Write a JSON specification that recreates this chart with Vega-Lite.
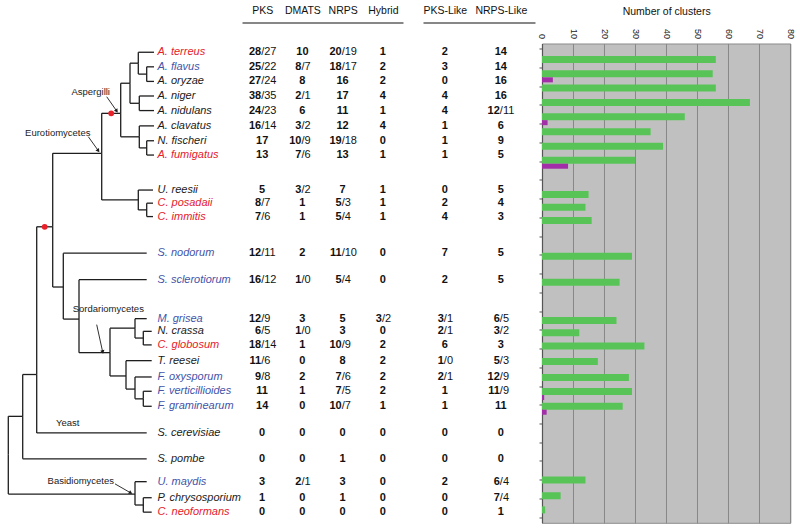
{
  "$schema": "https://vega.github.io/schema/vega-lite/v6.json",
  "padding": {"left": 0, "top": 5.5, "right": 0, "bottom": 0},
  "config": {"font": "Liberation Sans", "view": {"stroke": null}},
  "datasets": {
    "fungi": [
      {"sp": "A. terreus", "type": "human pathogen", "row": 0, "PKS": "28/27", "DMATS": "10", "NRPS": "20/19", "Hybrid": "1", "PKS-Like": "2", "NRPS-Like": "14", "n": 56, "n2": 0},
      {"sp": "A. flavus", "type": "plant pathogen", "row": 1, "PKS": "25/22", "DMATS": "8/7", "NRPS": "18/17", "Hybrid": "2", "PKS-Like": "3", "NRPS-Like": "14", "n": 55, "n2": 3.5},
      {"sp": "A. oryzae", "type": "other", "row": 2, "PKS": "27/24", "DMATS": "8", "NRPS": "16", "Hybrid": "2", "PKS-Like": "0", "NRPS-Like": "16", "n": 56, "n2": 0},
      {"sp": "A. niger", "type": "other", "row": 3, "PKS": "38/35", "DMATS": "2/1", "NRPS": "17", "Hybrid": "4", "PKS-Like": "4", "NRPS-Like": "16", "n": 67, "n2": 0},
      {"sp": "A. nidulans", "type": "other", "row": 4, "PKS": "24/23", "DMATS": "6", "NRPS": "11", "Hybrid": "1", "PKS-Like": "4", "NRPS-Like": "12/11", "n": 46, "n2": 1.8},
      {"sp": "A. clavatus", "type": "other", "row": 5.05, "PKS": "16/14", "DMATS": "3/2", "NRPS": "12", "Hybrid": "4", "PKS-Like": "1", "NRPS-Like": "6", "n": 35, "n2": 0},
      {"sp": "N. fischeri", "type": "other", "row": 6.07, "PKS": "17", "DMATS": "10/9", "NRPS": "19/18", "Hybrid": "0", "PKS-Like": "1", "NRPS-Like": "9", "n": 39, "n2": 0},
      {"sp": "A. fumigatus", "type": "human pathogen", "row": 7.05, "PKS": "13", "DMATS": "7/6", "NRPS": "13", "Hybrid": "1", "PKS-Like": "1", "NRPS-Like": "5", "n": 30, "n2": 8.4},
      {"sp": "U. reesii", "type": "other", "row": 9.45, "PKS": "5", "DMATS": "3/2", "NRPS": "7", "Hybrid": "1", "PKS-Like": "0", "NRPS-Like": "5", "n": 15, "n2": 0},
      {"sp": "C. posadaii", "type": "human pathogen", "row": 10.35, "PKS": "8/7", "DMATS": "1", "NRPS": "5/3", "Hybrid": "1", "PKS-Like": "2", "NRPS-Like": "4", "n": 14, "n2": 0},
      {"sp": "C. immitis", "type": "human pathogen", "row": 11.27, "PKS": "7/6", "DMATS": "1", "NRPS": "5/4", "Hybrid": "1", "PKS-Like": "4", "NRPS-Like": "3", "n": 16, "n2": 0},
      {"sp": "S. nodorum", "type": "plant pathogen", "row": 13.78, "PKS": "12/11", "DMATS": "2", "NRPS": "11/10", "Hybrid": "0", "PKS-Like": "7", "NRPS-Like": "5", "n": 29, "n2": 0},
      {"sp": "S. sclerotiorum", "type": "plant pathogen", "row": 15.6, "PKS": "16/12", "DMATS": "1/0", "NRPS": "5/4", "Hybrid": "0", "PKS-Like": "2", "NRPS-Like": "5", "n": 25, "n2": 0},
      {"sp": "M. grisea", "type": "plant pathogen", "row": 18.27, "PKS": "12/9", "DMATS": "3", "NRPS": "5", "Hybrid": "3/2", "PKS-Like": "3/1", "NRPS-Like": "6/5", "n": 24, "n2": 0},
      {"sp": "N. crassa", "type": "other", "row": 19.14, "PKS": "6/5", "DMATS": "1/0", "NRPS": "3", "Hybrid": "0", "PKS-Like": "2/1", "NRPS-Like": "3/2", "n": 12, "n2": 0},
      {"sp": "C. globosum", "type": "human pathogen", "row": 20.07, "PKS": "18/14", "DMATS": "1", "NRPS": "10/9", "Hybrid": "2", "PKS-Like": "6", "NRPS-Like": "3", "n": 33, "n2": 0},
      {"sp": "T. reesei", "type": "other", "row": 21.15, "PKS": "11/6", "DMATS": "0", "NRPS": "8", "Hybrid": "2", "PKS-Like": "1/0", "NRPS-Like": "5/3", "n": 18, "n2": 0},
      {"sp": "F. oxysporum", "type": "plant pathogen", "row": 22.27, "PKS": "9/8", "DMATS": "2", "NRPS": "7/6", "Hybrid": "2", "PKS-Like": "2/1", "NRPS-Like": "12/9", "n": 28, "n2": 0},
      {"sp": "F. verticillioides", "type": "plant pathogen", "row": 23.25, "PKS": "11", "DMATS": "1", "NRPS": "7/5", "Hybrid": "2", "PKS-Like": "1", "NRPS-Like": "11/9", "n": 29, "n2": 0.7},
      {"sp": "F. graminearum", "type": "plant pathogen", "row": 24.28, "PKS": "14", "DMATS": "0", "NRPS": "10/7", "Hybrid": "1", "PKS-Like": "1", "NRPS-Like": "11", "n": 26, "n2": 1.5},
      {"sp": "S. cerevisiae", "type": "other", "row": 26.11, "PKS": "0", "DMATS": "0", "NRPS": "0", "Hybrid": "0", "PKS-Like": "0", "NRPS-Like": "0", "n": 0, "n2": 0},
      {"sp": "S. pombe", "type": "other", "row": 27.88, "PKS": "0", "DMATS": "0", "NRPS": "1", "Hybrid": "0", "PKS-Like": "0", "NRPS-Like": "0", "n": 0, "n2": 0},
      {"sp": "U. maydis", "type": "plant pathogen", "row": 29.45, "PKS": "3", "DMATS": "2/1", "NRPS": "3", "Hybrid": "0", "PKS-Like": "2", "NRPS-Like": "6/4", "n": 14, "n2": 0},
      {"sp": "P. chrysosporium", "type": "other", "row": 30.55, "PKS": "1", "DMATS": "0", "NRPS": "1", "Hybrid": "0", "PKS-Like": "0", "NRPS-Like": "7/4", "n": 6, "n2": 0},
      {"sp": "C. neoformans", "type": "human pathogen", "row": 31.54, "PKS": "0", "DMATS": "0", "NRPS": "0", "Hybrid": "0", "PKS-Like": "0", "NRPS-Like": "1", "n": 1, "n2": 0}
    ],
    "nodes": [
      {"id": "Fungi", "parent": null, "depth": 8.3, "row": 27.6},
      {"id": "Ascomycota", "parent": "Fungi", "depth": 22.7, "row": 24.97},
      {"id": "Basidiomycetes", "parent": "Fungi", "depth": 135, "row": 30.3},
      {"id": "Saccharomyceta", "parent": "Ascomycota", "depth": 36.7, "row": 22.1},
      {"id": "Pezizomycotina", "parent": "Saccharomyceta", "depth": 52.7, "row": 11.97},
      {"id": "Eurotiomycetes", "parent": "Pezizomycotina", "depth": 101.7, "row": 6.93},
      {"id": "Leotiomyceta", "parent": "Pezizomycotina", "depth": 63.3, "row": 16.1},
      {"id": "Aspergilli", "parent": "Eurotiomycetes", "depth": 120.7, "row": 4.19},
      {"id": "Onygenales", "parent": "Eurotiomycetes", "depth": 138.3, "row": 10.13},
      {"id": "N4", "parent": "Aspergilli", "depth": 130, "row": 2.125},
      {"id": "N6", "parent": "Aspergilli", "depth": 139.3, "row": 5.8},
      {"id": "N2", "parent": "N4", "depth": 138.3, "row": 0.75},
      {"id": "N3", "parent": "N4", "depth": 139.3, "row": 3.5},
      {"id": "N1", "parent": "N2", "depth": 146.7, "row": 1.5},
      {"id": "N5", "parent": "N6", "depth": 146.7, "row": 6.56},
      {"id": "N9", "parent": "Onygenales", "depth": 146.7, "row": 10.81},
      {"id": "N18", "parent": "Leotiomyceta", "depth": 79, "row": 18.3},
      {"id": "Sordariomycetes", "parent": "N18", "depth": 110, "row": 20.6},
      {"id": "N13", "parent": "Sordariomycetes", "depth": 135, "row": 18.92},
      {"id": "N12", "parent": "N13", "depth": 143.3, "row": 19.6},
      {"id": "N16", "parent": "Sordariomycetes", "depth": 126, "row": 22.2},
      {"id": "N15", "parent": "N16", "depth": 135, "row": 23.1},
      {"id": "N14", "parent": "N15", "depth": 143.3, "row": 23.77},
      {"id": "N24", "parent": "Basidiomycetes", "depth": 143.3, "row": 31.05},
      {"id": "A. terreus", "parent": "N2", "depth": 154},
      {"id": "A. flavus", "parent": "N1", "depth": 154},
      {"id": "A. oryzae", "parent": "N1", "depth": 154},
      {"id": "A. niger", "parent": "N3", "depth": 154},
      {"id": "A. nidulans", "parent": "N3", "depth": 154},
      {"id": "A. clavatus", "parent": "N6", "depth": 154},
      {"id": "N. fischeri", "parent": "N5", "depth": 154},
      {"id": "A. fumigatus", "parent": "N5", "depth": 154},
      {"id": "U. reesii", "parent": "Onygenales", "depth": 153},
      {"id": "C. posadaii", "parent": "N9", "depth": 153},
      {"id": "C. immitis", "parent": "N9", "depth": 153},
      {"id": "S. nodorum", "parent": "Leotiomyceta", "depth": 146.7},
      {"id": "S. sclerotiorum", "parent": "N18", "depth": 146.7},
      {"id": "M. grisea", "parent": "N13", "depth": 146.7},
      {"id": "N. crassa", "parent": "N12", "depth": 151.7},
      {"id": "C. globosum", "parent": "N12", "depth": 151.7},
      {"id": "T. reesei", "parent": "N16", "depth": 151.7},
      {"id": "F. oxysporum", "parent": "N15", "depth": 151.7},
      {"id": "F. verticillioides", "parent": "N14", "depth": 151.7},
      {"id": "F. graminearum", "parent": "N14", "depth": 151.7},
      {"id": "S. cerevisiae", "parent": "Saccharomyceta", "depth": 146.7},
      {"id": "S. pombe", "parent": "Ascomycota", "depth": 146.7},
      {"id": "U. maydis", "parent": "Basidiomycetes", "depth": 146.7},
      {"id": "P. chrysosporium", "parent": "N24", "depth": 151.7},
      {"id": "C. neoformans", "parent": "N24", "depth": 151.7}
    ],
    "clades": [
      {"label": "Aspergilli", "lx": 90.7, "ly": 2.75, "x1": 106.7, "y1": 3.05, "x2": 116.7, "y2": 4.03},
      {"label": "Eurotiomycetes", "lx": 57.8, "ly": 5.51, "x1": 88.3, "y1": 5.79, "x2": 98.3, "y2": 6.75},
      {"label": "Sordariomycetes", "lx": 108.3, "ly": 17.62, "x1": 96.7, "y1": 18.68, "x2": 102.7, "y2": 20.56},
      {"label": "Yeast", "lx": 67.7, "ly": 25.42},
      {"label": "Basidiomycetes", "lx": 80.8, "ly": 29.42, "x1": 115, "y1": 29.6, "x2": 130.7, "y2": 30.22}
    ]
  },
  "bounds": "flush",
  "spacing": 0,
  "hconcat": [
    {
      "width": 242,
      "height": 479.3,
      "view": {"fill": "white", "stroke": null},
      "layer": [
        {
          "data": {"name": "nodes"},
          "transform": [
            {"lookup": "id", "from": {"data": {"name": "fungi"}, "key": "sp", "fields": ["row"]}, "as": ["leafRow"]},
            {"calculate": "isValid(datum.row) ? datum.row : datum.leafRow", "as": "y"},
            {"lookup": "parent", "from": {"data": {"name": "nodes"}, "key": "id", "fields": ["depth", "row"]}, "as": ["pdepth", "prow"]},
            {"filter": "isValid(datum.pdepth)"}
          ],
          "layer": [
            {
              "mark": {"type": "rule", "color": "#1e1e1e", "strokeWidth": 1.3},
              "encoding": {
                "x": {"field": "pdepth", "type": "quantitative", "scale": {"domain": [0, 242], "nice": false, "zero": false}, "axis": null},
                "y": {"field": "prow", "type": "quantitative", "scale": {"domain": [-0.6, 32.27], "reverse": true, "nice": false, "zero": false}, "axis": null},
                "y2": {"field": "y"}
              }
            },
            {
              "mark": {"type": "rule", "color": "#1e1e1e", "strokeWidth": 1.3},
              "encoding": {
                "x": {"field": "pdepth", "type": "quantitative", "scale": {"domain": [0, 242], "nice": false, "zero": false}, "axis": null},
                "x2": {"field": "depth"},
                "y": {"field": "y", "type": "quantitative", "scale": {"domain": [-0.6, 32.27], "reverse": true, "nice": false, "zero": false}, "axis": null}
              }
            },
            {
              "transform": [
                {"filter": "datum.id == 'Aspergilli' || datum.id == 'Pezizomycotina'"},
                {"calculate": "(datum.pdepth + datum.depth) / 2", "as": "mid"}
              ],
              "mark": {"type": "point", "filled": true, "color": "#e8202a", "size": 34, "opacity": 1},
              "encoding": {
                "x": {"field": "mid", "type": "quantitative", "scale": {"domain": [0, 242], "nice": false, "zero": false}, "axis": null},
                "y": {"field": "y", "type": "quantitative", "scale": {"domain": [-0.6, 32.27], "reverse": true, "nice": false, "zero": false}, "axis": null}
              }
            }
          ]
        },
        {
          "data": {"name": "fungi"},
          "mark": {"type": "text", "align": "left", "baseline": "middle", "fontSize": 11, "fontStyle": "italic"},
          "encoding": {
            "x": {"datum": 157.5, "type": "quantitative", "scale": {"domain": [0, 242], "nice": false, "zero": false}, "axis": null},
            "y": {"field": "row", "type": "quantitative", "scale": {"domain": [-0.6, 32.27], "reverse": true, "nice": false, "zero": false}, "axis": null},
            "text": {"field": "sp"},
            "color": {"field": "type", "type": "nominal", "scale": {"domain": ["human pathogen", "plant pathogen", "other"], "range": ["#e5202a", "#4353a8", "#1a1a1a"]}, "legend": null}
          }
        },
        {
          "data": {"name": "clades"},
          "layer": [
            {
              "mark": {"type": "text", "align": "center", "baseline": "middle", "fontSize": 9.5, "color": "#1a1a1a"},
              "encoding": {
                "x": {"field": "lx", "type": "quantitative", "scale": {"domain": [0, 242], "nice": false, "zero": false}, "axis": null},
                "y": {"field": "ly", "type": "quantitative", "scale": {"domain": [-0.6, 32.27], "reverse": true, "nice": false, "zero": false}, "axis": null},
                "text": {"field": "label"}
              }
            },
            {
              "transform": [{"filter": "isValid(datum.x1)"}],
              "mark": {"type": "rule", "color": "#1a1a1a", "strokeWidth": 0.9},
              "encoding": {
                "x": {"field": "x1", "type": "quantitative", "scale": {"domain": [0, 242], "nice": false, "zero": false}, "axis": null},
                "x2": {"field": "x2"},
                "y": {"field": "y1", "type": "quantitative", "scale": {"domain": [-0.6, 32.27], "reverse": true, "nice": false, "zero": false}, "axis": null},
                "y2": {"field": "y2"}
              }
            },
            {
              "transform": [
                {"filter": "isValid(datum.x1)"},
                {"calculate": "atan2((datum.y2 - datum.y1) * 14.58, datum.x2 - datum.x1) * 180 / PI + 90", "as": "ang"}
              ],
              "mark": {"type": "point", "shape": "triangle-up", "filled": true, "color": "#1a1a1a", "size": 18, "opacity": 1},
              "encoding": {
                "x": {"field": "x2", "type": "quantitative", "scale": {"domain": [0, 242], "nice": false, "zero": false}, "axis": null},
                "y": {"field": "y2", "type": "quantitative", "scale": {"domain": [-0.6, 32.27], "reverse": true, "nice": false, "zero": false}, "axis": null},
                "angle": {"field": "ang", "type": "quantitative", "scale": null}
              }
            }
          ]
        }
      ]
    },
    {
      "width": 161,
      "height": 479.3,
      "data": {"name": "fungi"},
      "transform": [
        {"fold": ["PKS", "DMATS", "NRPS", "Hybrid"], "as": ["col", "val"]},
        {"calculate": "split(datum.val, '/')[0]", "as": "b"},
        {"calculate": "indexof(datum.val, '/') >= 0 ? '/' + split(datum.val, '/')[1] : ''", "as": "r"}
      ],
      "encoding": {
        "x": {"field": "col", "type": "nominal", "scale": {"type": "point", "domain": ["PKS", "DMATS", "NRPS", "Hybrid"], "padding": 0.5},
          "axis": {"orient": "top", "offset": 21, "ticks": false, "tickSize": 0, "labelPadding": 6.7, "labelAngle": 0, "labelFontSize": 10.5, "labelColor": "#111", "domainColor": "#111", "domainWidth": 1.2, "title": null, "grid": false}},
        "y": {"field": "row", "type": "quantitative", "scale": {"domain": [-0.6, 32.27], "reverse": true, "nice": false, "zero": false}, "axis": null}
      },
      "layer": [
        {"transform": [{"filter": "datum.r == ''"}], "mark": {"type": "text", "fontWeight": "bold", "fontSize": 11, "align": "center", "baseline": "middle", "color": "#111"}, "encoding": {"text": {"field": "b"}}},
        {"transform": [{"filter": "datum.r != ''"}], "mark": {"type": "text", "fontWeight": "bold", "fontSize": 11, "align": "right", "baseline": "middle", "dx": -1, "color": "#111"}, "encoding": {"text": {"field": "b"}}},
        {"transform": [{"filter": "datum.r != ''"}], "mark": {"type": "text", "fontWeight": "normal", "fontSize": 11, "align": "left", "baseline": "middle", "dx": -1, "color": "#111"}, "encoding": {"text": {"field": "r"}}}
      ]
    },
    {
      "width": 20,
      "height": 479.3,
      "data": {"values": []},
      "mark": {"type": "point", "opacity": 0}
    },
    {
      "width": 112,
      "height": 479.3,
      "data": {"name": "fungi"},
      "transform": [
        {"fold": ["PKS-Like", "NRPS-Like"], "as": ["col", "val"]},
        {"calculate": "split(datum.val, '/')[0]", "as": "b"},
        {"calculate": "indexof(datum.val, '/') >= 0 ? '/' + split(datum.val, '/')[1] : ''", "as": "r"}
      ],
      "encoding": {
        "x": {"field": "col", "type": "nominal", "scale": {"type": "point", "domain": ["PKS-Like", "NRPS-Like"], "padding": 0.5, "align": 0.39},
          "axis": {"orient": "top", "offset": 21, "ticks": false, "tickSize": 0, "labelPadding": 6.7, "labelAngle": 0, "labelFontSize": 10.5, "labelColor": "#111", "domainColor": "#111", "domainWidth": 1.2, "title": null, "grid": false}},
        "y": {"field": "row", "type": "quantitative", "scale": {"domain": [-0.6, 32.27], "reverse": true, "nice": false, "zero": false}, "axis": null}
      },
      "layer": [
        {"transform": [{"filter": "datum.r == ''"}], "mark": {"type": "text", "fontWeight": "bold", "fontSize": 11, "align": "center", "baseline": "middle", "color": "#111"}, "encoding": {"text": {"field": "b"}}},
        {"transform": [{"filter": "datum.r != ''"}], "mark": {"type": "text", "fontWeight": "bold", "fontSize": 11, "align": "right", "baseline": "middle", "dx": -1, "color": "#111"}, "encoding": {"text": {"field": "b"}}},
        {"transform": [{"filter": "datum.r != ''"}], "mark": {"type": "text", "fontWeight": "normal", "fontSize": 11, "align": "left", "baseline": "middle", "dx": -1, "color": "#111"}, "encoding": {"text": {"field": "r"}}}
      ]
    },
    {
      "width": 6.7,
      "height": 479.3,
      "data": {"values": []},
      "mark": {"type": "point", "opacity": 0}
    },
    {
      "width": 248.3,
      "height": 479.3,
      "view": {"fill": "#c0c0c0", "stroke": "#8c8c8c", "strokeWidth": 1},
      "data": {"name": "fungi"},
      "encoding": {
        "y": {"field": "row", "type": "quantitative", "scale": {"domain": [-0.6, 32.27], "reverse": true, "nice": false, "zero": false},
          "axis": {"orient": "left", "values": [-0.582, 0.730, 2.043, 3.355, 4.667, 5.980, 7.292, 8.604, 9.916, 11.229, 12.541, 13.853, 15.166, 16.478, 17.790, 19.102, 20.415, 21.727, 23.039, 24.351, 25.664, 26.976, 28.288, 29.601, 30.913, 32.225], "labels": false, "ticks": true, "tickSize": 3, "tickColor": "#555", "domainColor": "#555", "domainWidth": 1.2, "grid": false, "title": null}}
      },
      "layer": [
        {
          "mark": {"type": "bar", "orient": "horizontal", "color": "#58c458", "height": 7, "yOffset": 2.5},
          "encoding": {
            "x": {"field": "n", "type": "quantitative", "scale": {"domain": [0, 80], "nice": false},
              "axis": {"orient": "top", "values": [0, 10, 20, 30, 40, 50, 60, 70, 80], "labelOverlap": false, "labelAngle": 90, "labelFontSize": 9, "labelColor": "#222", "labelPadding": 5, "grid": true, "gridColor": "#888", "gridWidth": 1, "domain": false, "ticks": false, "tickSize": 0, "title": "Number of clusters", "titleFontSize": 10.5, "titleFontWeight": "normal", "titleColor": "#111", "titlePadding": 12.4}}
          }
        },
        {
          "transform": [{"filter": "datum.n2 > 0"}],
          "mark": {"type": "bar", "orient": "horizontal", "color": "#a22fa8", "height": 5, "yOffset": 8.5},
          "encoding": {
            "x": {"field": "n2", "type": "quantitative", "scale": {"domain": [0, 80], "nice": false},
              "axis": {"orient": "top", "values": [0, 10, 20, 30, 40, 50, 60, 70, 80], "labelOverlap": false, "labelAngle": 90, "labelFontSize": 9, "labelColor": "#222", "labelPadding": 5, "grid": true, "gridColor": "#888", "gridWidth": 1, "domain": false, "ticks": false, "tickSize": 0, "title": "Number of clusters", "titleFontSize": 10.5, "titleFontWeight": "normal", "titleColor": "#111", "titlePadding": 12.4}}
          }
        }
      ]
    }
  ]
}
